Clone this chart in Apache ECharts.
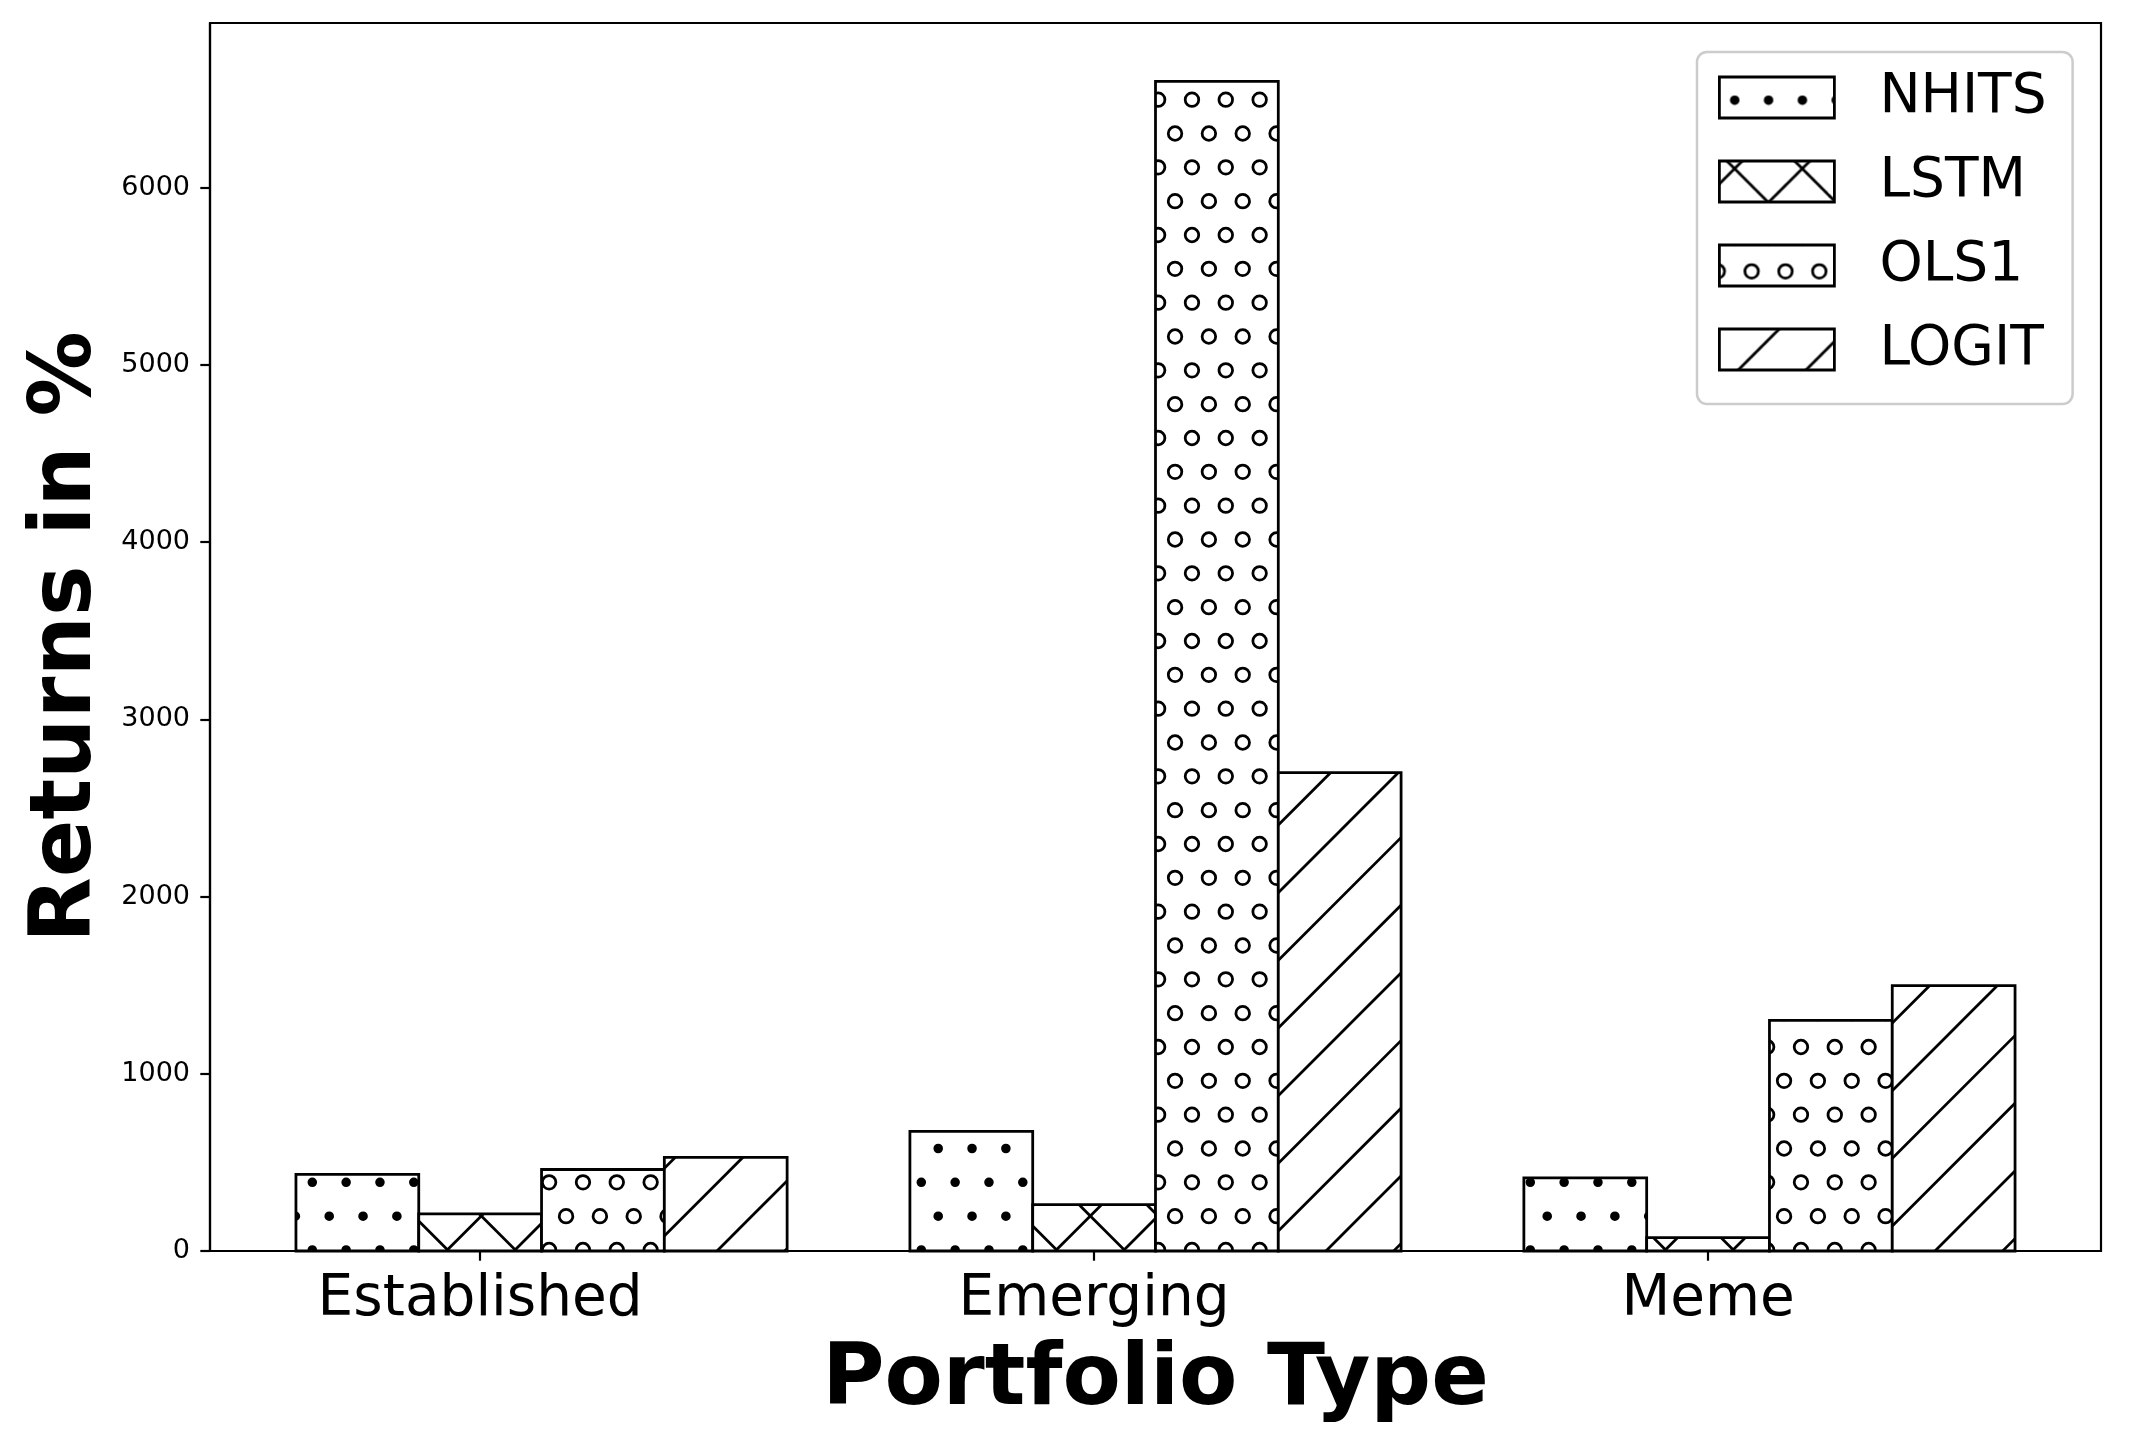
<!DOCTYPE html>
<html>
<head>
<meta charset="utf-8">
<script src="https://cdn.jsdelivr.net/npm/echarts@6/dist/echarts.min.js"></script>
<style>
  html, body { margin: 0; padding: 0; background: #ffffff; }
  #chart { width: 2131px; height: 1444px; }
</style>
</head>
<body>
<div id="chart"></div>
<script>
// ---- data ----
const categories = ['Established', 'Emerging', 'Meme'];
const seriesNames = ['NHITS', 'LSTM', 'OLS1', 'LOGIT'];
const nhits = [432, 675, 413];
const lstm  = [210, 262, 76];
const ols1  = [460, 6600, 1302];
const logit = [528, 2700, 1498];
const yTicks = [0, 1000, 2000, 3000, 4000, 5000, 6000];
const xTicks = [0, 1, 2];

// ---- hatch patterns (matplotlib-like) ----
const T = 203;            // tile size (px)
const U = T / 6;          // hatch cell
const HLW = 2.78;         // hatch line width
const PX = 7.8, PY = 32;  // dot/circle phase
const CNE = 5.6;          // '/' phase (x + y)
const CSE = 9.7;          // '\' phase (x - y)

function makeCanvas() {
  const c = document.createElement('canvas');
  c.width = T; c.height = T;
  const ctx = c.getContext('2d');
  ctx.fillStyle = '#ffffff';
  ctx.fillRect(0, 0, T, T);
  ctx.strokeStyle = '#000'; ctx.fillStyle = '#000';
  ctx.lineWidth = HLW;
  return [c, ctx];
}
function shapeGrid(ctx, r, filled) {
  for (let row = -1; row <= 6; row++) {
    for (let col = -1; col <= 6; col++) {
      const x = PX + col * U + (Math.abs(row) % 2 ? U / 2 : 0);
      const y = PY + row * U;
      ctx.beginPath();
      ctx.arc(x, y, r, 0, Math.PI * 2);
      if (filled) ctx.fill();
      ctx.stroke();
    }
  }
}
function lineNE(ctx) { // x + y = c
  for (let k = -2; k <= 8; k++) {
    const c = CNE + k * 2 * U;
    ctx.beginPath(); ctx.moveTo(c + 10, -10); ctx.lineTo(c - T - 10, T + 10); ctx.stroke();
  }
}
function lineSE(ctx) { // x - y = c
  for (let k = -8; k <= 8; k++) {
    const c = CSE + k * 2 * U;
    ctx.beginPath(); ctx.moveTo(c - 10, -10); ctx.lineTo(c + T + 10, T + 10); ctx.stroke();
  }
}
function tile(kind) {
  const [c, ctx] = makeCanvas();
  if (kind === 'dots') shapeGrid(ctx, 0.1 * U, true);
  if (kind === 'circles') shapeGrid(ctx, 0.2 * U, false);
  if (kind === 'x') { lineNE(ctx); lineSE(ctx); }
  if (kind === 'ne') lineNE(ctx);
  return c;
}
const tiles = [tile('dots'), tile('x'), tile('circles'), tile('ne')];
const patterns = tiles.map(c => ({ image: c, repeat: 'repeat' }));

const values = [nhits, lstm, ols1, logit];
const BW = 0.2;
const offsets = [-1, 0, 1, 2];

// legend geometry
const LEG_LEFT = 1697, LEG_TOP = 52;
const LEG_PAD = [18, 26, 27, 21];
const LEG_STEP = 83;

const series = seriesNames.map((name, k) => ({
  name: name,
  type: 'custom',
  itemStyle: { color: patterns[k], borderColor: '#000', borderWidth: 2.78 },
  data: categories.map((c, i) => [i + offsets[k] * BW, values[k][i]]),
  encode: { x: 0, y: 1 },
  renderItem: function (params, api) {
    const x = api.value(0), v = api.value(1);
    const p0 = api.coord([x - BW / 2, v]);
    const p1 = api.coord([x + BW / 2, 0]);
    return {
      type: 'rect',
      shape: { x: p0[0], y: p0[1], width: p1[0] - p0[0], height: p1[1] - p0[1] },
      style: { fill: patterns[k], stroke: '#000', lineWidth: 2.78 }
    };
  }
}));

const chart = echarts.init(document.getElementById('chart'), null, { renderer: 'canvas' });
chart.setOption({
  animation: false,
  backgroundColor: '#ffffff',
  textStyle: { fontFamily: 'DejaVu Sans' },
  grid: {
    left: 210, right: 30, top: 23, bottom: 193,
    show: true, borderColor: '#000', borderWidth: 2.2, backgroundColor: 'transparent'
  },
  legend: {
    orient: 'vertical',
    left: LEG_LEFT, top: LEG_TOP,
    padding: LEG_PAD,
    itemWidth: 115, itemHeight: 41, itemGap: 29,
    backgroundColor: 'rgba(255,255,255,0.8)',
    borderColor: '#cccccc', borderWidth: 2.5, borderRadius: 10,
    textStyle: { fontFamily: 'DejaVu Sans', fontSize: 55, color: '#000', lineHeight: 41, padding: [0, 0, 0, 40] },
    data: seriesNames.map((n, k) => ({
      name: n, icon: 'rect',
      itemStyle: {
        color: {
          image: tiles[k], repeat: 'repeat',
          x: -(LEG_LEFT + LEG_PAD[3]),
          y: -(LEG_TOP + LEG_PAD[0] + 6.5 + k * LEG_STEP)
        },
        borderColor: '#000', borderWidth: 2.78
      }
    }))
  },
  xAxis: {
    type: 'value',
    min: -0.44, max: 2.64,
    name: 'Portfolio Type',
    nameLocation: 'middle',
    nameGap: 88,
    nameTextStyle: { fontFamily: 'DejaVu Sans', fontSize: 85, fontWeight: 'bold', color: '#000' },
    splitLine: { show: false },
    axisLine: { show: true, onZero: false, lineStyle: { color: '#000', width: 2.2 } },
    axisTick: { show: true, length: 9.7, lineStyle: { color: '#000', width: 2.2 }, customValues: xTicks },
    axisLabel: {
      customValues: xTicks,
      fontFamily: 'DejaVu Sans', fontSize: 56.5, color: '#000', margin: 21,
      formatter: v => categories[Math.round(v)]
    }
  },
  yAxis: {
    type: 'value',
    min: 0, max: 6930,
    name: 'Returns in %',
    nameLocation: 'middle',
    nameGap: 100,
    nameTextStyle: { fontFamily: 'DejaVu Sans', fontSize: 85, fontWeight: 'bold', color: '#000' },
    splitLine: { show: false },
    axisLine: { show: true, onZero: false, lineStyle: { color: '#000', width: 2.2 } },
    axisTick: { show: true, length: 9.7, lineStyle: { color: '#000', width: 2.2 }, customValues: yTicks },
    axisLabel: {
      customValues: yTicks,
      fontFamily: 'DejaVu Sans', fontSize: 27, color: '#000', margin: 20,
      formatter: v => String(v)
    }
  },
  series: series
});
</script>
</body>
</html>
